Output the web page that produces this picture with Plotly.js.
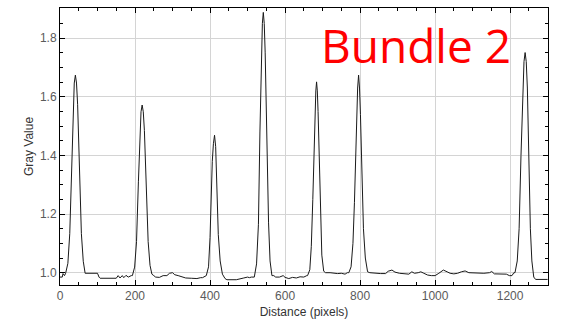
<!DOCTYPE html>
<html>
<head>
<meta charset="utf-8">
<script src="https://cdn.plot.ly/plotly-3.0.1.min.js"></script>
<style>html,body{margin:0;padding:0;background:#fff;}#chart{width:564px;height:321px;}</style>
</head>
<body>
<div id="chart"></div>
<script>
// Distance (pixels)
var distance = [
  0, 6, 8, 12, 15, 21, 26, 31, 35, 38, 41, 44, 47, 52, 57, 62, 67, 80, 100, 104, 107, 120, 140, 150, 155, 160, 166, 170, 176, 182, 190,
  193, 199, 204, 209, 213, 216, 219, 222, 225, 230, 235, 240, 245, 250, 255, 265, 275, 285, 292, 300, 306, 315, 325, 335, 350, 365, 375, 380,
  390, 396, 400, 403, 406, 409, 412, 415, 418, 422, 427, 433, 440, 445, 470, 480, 490, 500, 505, 510,
  518, 524, 529, 533, 537, 539.5, 542, 544.5, 547, 551, 556, 560, 565, 570, 575, 585, 595, 600, 610, 620, 630, 640, 650, 658,
  660, 666, 670, 674, 677, 680, 682, 684, 686, 688, 691, 694, 698, 703, 708, 720, 730, 740, 750, 760, 766,
  770, 776, 781, 785, 788, 791, 793.5, 796, 798.5, 801, 805, 809, 814, 820, 826, 840, 855, 868, 875, 885, 893, 905, 920, 930, 938, 945,
  955, 962, 970, 980, 990, 1000, 1010, 1022, 1032, 1040, 1050, 1060, 1070, 1080, 1090, 1110, 1130, 1145, 1151, 1158, 1175, 1190, 1198, 1205, 1210,
  1213, 1219, 1224, 1229, 1234, 1237, 1240, 1243, 1246, 1250, 1254, 1258, 1263, 1268, 1300
];
// Gray Value
var grayValue = [
  0.985, 0.985, 0.997, 0.990, 0.998, 1.032, 1.133, 1.370, 1.573, 1.647, 1.674, 1.647, 1.573, 1.350, 1.133, 1.039, 0.998, 0.998, 0.998, 0.985, 0.981, 0.981, 0.982, 0.981, 0.990, 0.982, 0.990, 0.983, 0.991, 0.985, 0.990,
  0.990, 1.019, 1.106, 1.310, 1.485, 1.549, 1.572, 1.549, 1.485, 1.293, 1.106, 1.025, 0.995, 0.990, 0.985, 0.984, 0.990, 0.990, 0.998, 1.000, 0.993, 0.990, 0.985, 0.982, 0.981, 0.980, 0.983, 0.983,
  0.990, 1.020, 1.120, 1.260, 1.380, 1.440, 1.469, 1.430, 1.290, 1.130, 1.040, 0.995, 0.980, 0.976, 0.976, 0.980, 0.982, 0.985, 0.983, 0.985,
  0.985, 1.030, 1.165, 1.480, 1.750, 1.850, 1.888, 1.850, 1.750, 1.450, 1.170, 1.040, 0.990, 0.990, 0.985, 0.985, 0.990, 0.984, 0.980, 0.984, 0.982, 0.986, 0.985, 0.990,
  0.990, 1.010, 1.090, 1.250, 1.420, 1.560, 1.620, 1.651, 1.620, 1.550, 1.380, 1.190, 1.060, 1.005, 1.000, 1.000, 0.998, 0.997, 0.998, 0.995, 1.000,
  1.000, 1.020, 1.100, 1.240, 1.400, 1.550, 1.630, 1.674, 1.630, 1.540, 1.330, 1.150, 1.050, 1.003, 1.000, 0.998, 0.997, 0.997, 1.005, 1.009, 1.002, 0.998, 0.997, 0.995, 1.003, 0.998,
  1.000, 1.003, 0.998, 0.992, 0.990, 0.990, 0.998, 1.009, 1.003, 0.998, 0.996, 0.998, 1.003, 1.006, 1.000, 0.999, 0.998, 1.000, 1.004, 0.996, 0.995, 0.995, 0.990, 0.990, 1.000,
  1.000, 1.040, 1.150, 1.400, 1.620, 1.720, 1.751, 1.720, 1.630, 1.380, 1.150, 1.040, 0.985, 0.977, 0.977
];
var xTickVals = [0, 200, 400, 600, 800, 1000, 1200];
var yTickVals = [1.0, 1.2, 1.4, 1.6, 1.8];
var yTickText = ['1.0', '1.2', '1.4', '1.6', '1.8'];
var labelText = 'Bundle 2';

var trace = {
  x: distance, y: grayValue, type: 'scatter', mode: 'lines',
  line: {color: '#1a1a1a', width: 1}, hoverinfo: 'skip'
};
var axisCommon = {
  showline: true, linecolor: '#000', linewidth: 1, mirror: 'ticks',
  ticks: 'inside', ticklen: 5, tickcolor: '#000', tickwidth: 1,
  showgrid: true, gridcolor: '#d4d4d4', gridwidth: 1, zeroline: false,
  tickfont: {family: 'Liberation Sans, Arial, sans-serif', size: 12, color: '#5a5a5a'},
  fixedrange: true
};
var layout = {
  width: 564, height: 321,
  margin: {l: 60, r: 16, t: 8, b: 36, pad: 0},
  paper_bgcolor: '#fff', plot_bgcolor: '#fff',
  showlegend: false,
  xaxis: Object.assign({}, axisCommon, {
    range: [0, 1301], tickmode: 'array', tickvals: xTickVals,
    minor: {dtick: 50, tick0: 0, ticks: 'inside', ticklen: 3, tickcolor: '#000', showgrid: false},
    title: {text: 'Distance (pixels)', font: {family: 'Liberation Sans, Arial, sans-serif', size: 12, color: '#333'}, standoff: 5}
  }),
  yaxis: Object.assign({}, axisCommon, {
    range: [0.958, 1.903], tickmode: 'array', tickvals: yTickVals, ticktext: yTickText,
    minor: {dtick: 0.05, tick0: 1.0, ticks: 'inside', ticklen: 3, tickcolor: '#000', showgrid: false},
    title: {text: 'Gray Value', font: {family: 'Liberation Sans, Arial, sans-serif', size: 12, color: '#333'}, standoff: 3}
  }),
  annotations: [{
    text: labelText, xref: 'paper', yref: 'paper', x: 0.531, y: 0.868,
    xanchor: 'left', yanchor: 'middle', showarrow: false,
    font: {family: 'Open Sans, sans-serif', size: 46, color: '#ff0000'}
  }]
};
Plotly.newPlot('chart', [trace], layout, {displayModeBar: false, staticPlot: true});
</script>
</body>
</html>
